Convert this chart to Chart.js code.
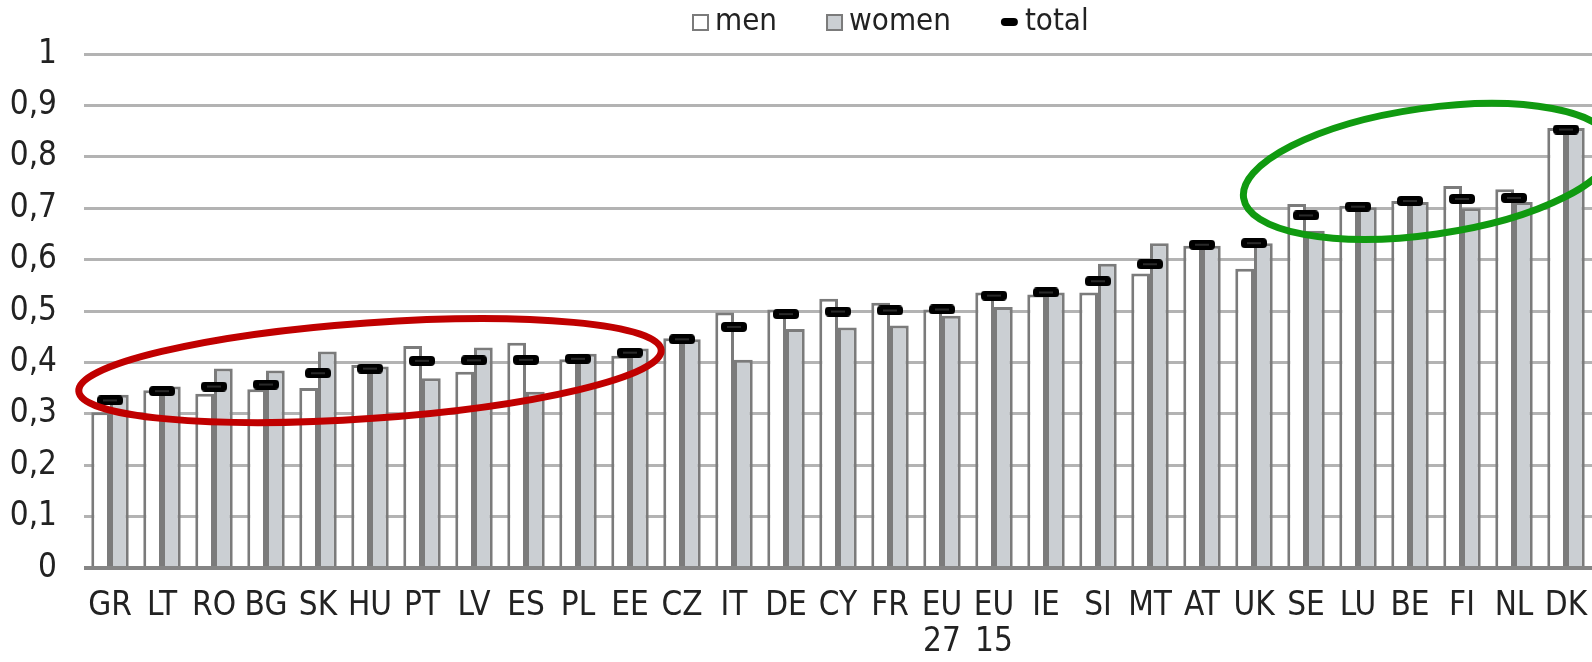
<!DOCTYPE html>
<html>
<head>
<meta charset="utf-8">
<script src="https://cdn.jsdelivr.net/npm/chart.js@4.4.1/dist/chart.umd.min.js"></script>
<style>
    html, body { margin: 0; padding: 0; background: #fff; overflow: hidden; }
    canvas { display: block; }
</style>
</head>
<body>
<canvas id="chart" width="1592" height="662"></canvas>
<script>
const countries = ['GR', 'LT', 'RO', 'BG', 'SK', 'HU', 'PT', 'LV', 'ES', 'PL', 'EE', 'CZ', 'IT', 'DE', 'CY',
    'FR', ['EU', '27'], ['EU', '15'], 'IE', 'SI', 'MT', 'AT', 'UK', 'SE', 'LU', 'BE', 'FI', 'NL', 'DK'];

const men = [0.303, 0.346, 0.339, 0.348, 0.350, 0.395, 0.432, 0.382, 0.438, 0.406, 0.413, 0.447, 0.497, 0.503, 0.524,
    0.516, 0.503, 0.536, 0.532, 0.536, 0.573, 0.627, 0.582, 0.708, 0.705, 0.714, 0.743, 0.737, 0.856];

const women = [0.337, 0.353, 0.388, 0.384, 0.421, 0.392, 0.369, 0.429, 0.343, 0.417, 0.427, 0.445, 0.405, 0.465, 0.468,
    0.472, 0.491, 0.508, 0.536, 0.592, 0.632, 0.627, 0.632, 0.656, 0.702, 0.712, 0.700, 0.712, 0.856];

const total = [0.326, 0.344, 0.353, 0.357, 0.379, 0.388, 0.403, 0.404, 0.405, 0.407, 0.419, 0.445, 0.469, 0.494, 0.499,
    0.501, 0.503, 0.530, 0.536, 0.558, 0.591, 0.629, 0.632, 0.686, 0.703, 0.714, 0.718, 0.720, 0.853];

const yTicks = [0, 0.1, 0.2, 0.3, 0.4, 0.5, 0.6, 0.7, 0.8, 0.9, 1];

const legendItems = ['men', 'women', 'total'];

const FONT = '"Liberation Sans Narrow", "DejaVu Sans Condensed", "Liberation Sans", sans-serif';
const EDGE = '#7b7b7b';
const GREY_FILL = '#cbcfd3';
const TEXT = '#222';

// black rounded dash used for the "total" points
function makeMarker(w, h) {
    const c = document.createElement('canvas');
    c.width = w;
    c.height = h;
    const g = c.getContext('2d');
    g.fillStyle = '#000';
    g.beginPath();
    g.roundRect(0, 0, w, h, 4);
    g.fill();
    g.strokeStyle = '#555';
    g.lineWidth = 1;
    g.beginPath();
    g.moveTo(6, h / 2);
    g.lineTo(w - 6, h / 2);
    g.stroke();
    return c;
}
const marker = makeMarker(26, 10);

// hand drawn ellipses (category index, value)
const ellipses = [
    { from: [-0.6, 0.344], to: [10.6, 0.424], minor: 0.093, color: '#c00000' },
    { from: [21.8, 0.720], to: [28.9, 0.823], minor: 0.123, color: '#109a10' }
];

const ellipsePlugin = {
    id: 'ellipses',
    afterDatasetsDraw(chart) {
        const { ctx, scales: { x, y } } = chart;
        const unit = y.getPixelForValue(0) - y.getPixelForValue(1);
        ctx.save();
        ellipses.forEach(e => {
            const x1 = x.getPixelForValue(e.from[0]), y1 = y.getPixelForValue(e.from[1]);
            const x2 = x.getPixelForValue(e.to[0]), y2 = y.getPixelForValue(e.to[1]);
            const rx = Math.hypot(x2 - x1, y2 - y1) / 2;
            const angle = Math.atan2(y2 - y1, x2 - x1);
            ctx.beginPath();
            ctx.ellipse((x1 + x2) / 2, (y1 + y2) / 2, rx, e.minor * unit, angle, 0, Math.PI * 2);
            ctx.strokeStyle = e.color;
            ctx.lineWidth = 7;
            ctx.stroke();
        });
        ctx.restore();
    }
};

// legend row above the plot, drawn in the top padding
const legendPlugin = {
    id: 'topLegend',
    afterDraw(chart) {
        const ctx = chart.ctx;
        const cy = 22;
        let x = 693;
        ctx.save();
        ctx.font = `31px ${FONT}`;
        ctx.textBaseline = 'middle';
        legendItems.forEach((label, i) => {
            if (i < 2) {
                ctx.fillStyle = i === 0 ? '#fff' : GREY_FILL;
                ctx.strokeStyle = EDGE;
                ctx.lineWidth = 2;
                ctx.fillRect(x, cy - 7, 15, 15);
                ctx.strokeRect(x, cy - 7, 15, 15);
                x += 15;
            } else {
                ctx.fillStyle = '#000';
                ctx.beginPath();
                ctx.roundRect(x, cy - 4, 17, 8, 4);
                ctx.fill();
                x += 17;
            }
            x += 7;
            ctx.fillStyle = TEXT;
            ctx.fillText(label, x, cy);
            x += ctx.measureText(label).width + 50;
        });
        ctx.restore();
    }
};

const fmt = v => String(Math.round(v * 10) / 10).replace('.', ',');

new Chart(document.getElementById('chart'), {
    data: {
        labels: countries,
        datasets: [{
            type: 'bar',
            label: 'men',
            data: men,
            backgroundColor: '#ffffff',
            borderColor: EDGE,
            borderWidth: 3,
            order: 2
        }, {
            type: 'bar',
            label: 'women',
            data: women,
            backgroundColor: GREY_FILL,
            borderColor: EDGE,
            borderWidth: 3,
            order: 2
        }, {
            type: 'line',
            label: 'total',
            data: total,
            showLine: false,
            pointStyle: marker,
            pointRadius: 13,
            order: 0
        }]
    },
    options: {
        responsive: false,
        animation: false,
        datasets: {
            bar: {
                categoryPercentage: 0.72,
                barPercentage: 1.0
            }
        },
        layout: {
            autoPadding: false,
            padding: { top: 54, right: 0, bottom: 0, left: 0 }
        },
        plugins: {
            tooltip: { enabled: false },
            legend: { display: false }
        },
        scales: {
            x: {
                afterFit: s => {
                    s.height = 94;
                    s.paddingLeft = 0;
                    s.paddingRight = 0;
                },
                grid: { display: false, drawTicks: false },
                border: { display: false },
                ticks: {
                    color: TEXT,
                    padding: 20,
                    maxRotation: 0,
                    autoSkip: false,
                    font: { family: FONT, size: 33, lineHeight: 1.1 }
                }
            },
            y: {
                min: 0,
                max: 1,
                afterFit: s => {
                    s.width = 84;
                    s.paddingBottom = 0;
                },
                afterBuildTicks: s => { s.ticks = yTicks.map(v => ({ value: v })); },
                border: { display: false },
                grid: {
                    drawTicks: false,
                    color: c => c.tick.value === 0 ? '#858585' : '#b3b3b3',
                    lineWidth: c => c.tick.value === 0 ? 4 : 3
                },
                ticks: {
                    color: TEXT,
                    padding: 27,
                    callback: v => fmt(v),
                    font: { family: FONT, size: 33 }
                }
            }
        }
    },
    plugins: [ellipsePlugin, legendPlugin]
});
</script>
</body>
</html>
